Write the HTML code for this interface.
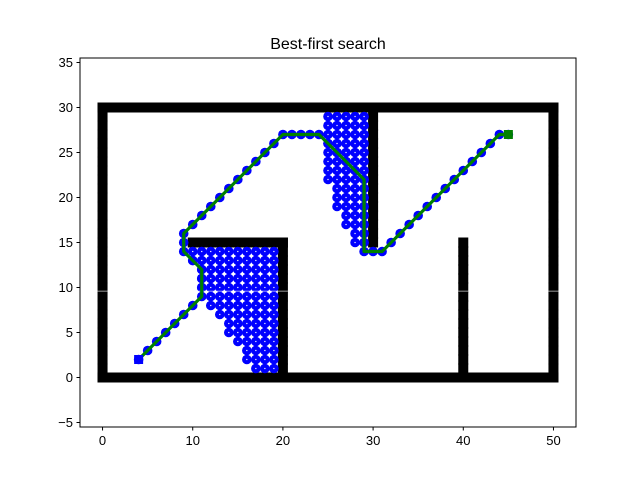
<!DOCTYPE html>
<html><head><meta charset="utf-8"><style>body{margin:0;background:#fff}svg{display:block;font-family:"Liberation Sans","DejaVu Sans",sans-serif}</style></head>
<body>
<svg id="c" width="640" height="480" xmlns="http://www.w3.org/2000/svg">
<text x="328" y="49" text-anchor="middle" font-size="16">Best-first search</text>
</svg>
<script>
const xTicks=[0,10,20,30,40,50];
const yTicks=[-5,0,5,10,15,20,25,30,35];
// obstacle segments [x1,y1,x2,y2]
const walls=[[0,0,50,0],[0,30,50,30],[0,0,0,30],[50,0,50,30],[20,0,20,15],[10,15,20,15],[30,15,30,30],[40,0,40,15]];
// visited rows: [y, xmin, xmax]
const visitedRows=[[29,25,29],[28,25,29],[27,25,29],[26,25,29],[25,25,29],[24,25,29],[23,25,29],[22,25,29],[21,26,29],[20,26,29],[19,26,29],[18,27,29],[17,27,29],[16,28,29],[15,28,29],
[14,10,19],[13,10,19],[12,11,19],[11,11,19],[10,11,19],[9,12,19],[8,12,19],[7,13,19],[6,14,19],[5,14,19],[4,15,19],[3,16,19],[2,16,19],[1,17,19]];
const pathX=[4,5,6,7,8,9,10,11,11,11,11,10,9,9,9,10,11,12,13,14,15,16,17,18,19,20,21,22,23,24,25,26,27,28,29,29,29,29,29,29,29,29,29,30,31,32,33,34,35,36,37,38,39,40,41,42,43,44,45];
const pathY=[2,3,4,5,6,7,8,9,10,11,12,13,14,15,16,17,18,19,20,21,22,23,24,25,26,27,27,27,27,27,26,25,24,23,22,21,20,19,18,17,16,15,14,14,14,15,16,17,18,19,20,21,22,23,24,25,26,27,27];
const start=[4,2], goal=[45,27];

const L=80,R=576,T=58,B=427,xmin=-2.5,xmax=52.5,ymin=-5.5,ymax=35.5;
const sx=v=>L+(v-xmin)/(xmax-xmin)*(R-L);
const sy=v=>B-(v-ymin)/(ymax-ymin)*(B-T);
const svg=document.getElementById('c');const NS='http://www.w3.org/2000/svg';
function mk(t,a,p){const e=document.createElementNS(NS,t);for(const k in a)e.setAttribute(k,a[k]);(p||svg).appendChild(e);return e;}
const gw=mk('g',{});


walls.forEach(w=>{const n=Math.max(Math.abs(w[2]-w[0]),Math.abs(w[3]-w[1]));
 for(let i=0;i<=n;i++){const x=w[0]+(w[2]-w[0])*i/n,y=w[1]+(w[3]-w[1])*i/n;
  mk('rect',{x:sx(x)-5,y:sy(y)-5,width:10,height:10,fill:'#000'},gw);}});
const gv=mk('g',{});


const pts=[];
visitedRows.forEach(r=>{for(let x=r[1];x<=r[2];x++)pts.push([x,r[0]]);});
pathX.forEach((x,i)=>pts.push([x,pathY[i]]));
pts.forEach(p=>mk('circle',{cx:sx(p[0]),cy:sy(p[1]),r:4.8,fill:'#0000ff'},gv));
pts.forEach(p=>mk('rect',{x:sx(p[0])-0.6,y:sy(p[1])-0.6,width:1.2,height:1.2,fill:'#fff'},gv));
mk('line',{x1:L,x2:R,y1:sy(9.6),y2:sy(9.6),stroke:'#fff','stroke-width':0.8,opacity:0.8});
const pl=mk('polyline',{points:pathX.map((x,i)=>sx(x)+','+sy(pathY[i])).join(' '),fill:'none',stroke:'#008000','stroke-width':3.2,'stroke-linejoin':'round'});


const s=mk('rect',{x:sx(start[0])-4.5,y:sy(start[1])-4.5,width:9,height:9,fill:'#0000ff'});


const g=mk('rect',{x:sx(goal[0])-4.5,y:sy(goal[1])-4.5,width:9,height:9,fill:'#008000'});


const ax=mk('rect',{x:L,y:T,width:R-L,height:B-T,fill:'none',stroke:'#000','stroke-width':1});


xTicks.forEach(v=>{mk('line',{x1:sx(v),x2:sx(v),y1:B,y2:B+3.5,stroke:'#000'});
 const t=mk('text',{x:sx(v),y:B+18,'text-anchor':'middle','font-size':13});t.textContent=v;
 
 });
yTicks.forEach(v=>{mk('line',{x1:L-3.5,x2:L,y1:sy(v),y2:sy(v),stroke:'#000'});
 const t=mk('text',{x:L-7,y:sy(v)+4.5,'text-anchor':'end','font-size':13});t.textContent=v<0?'\u2212'+(-v):v;
 
 });
</script>
</body></html>
